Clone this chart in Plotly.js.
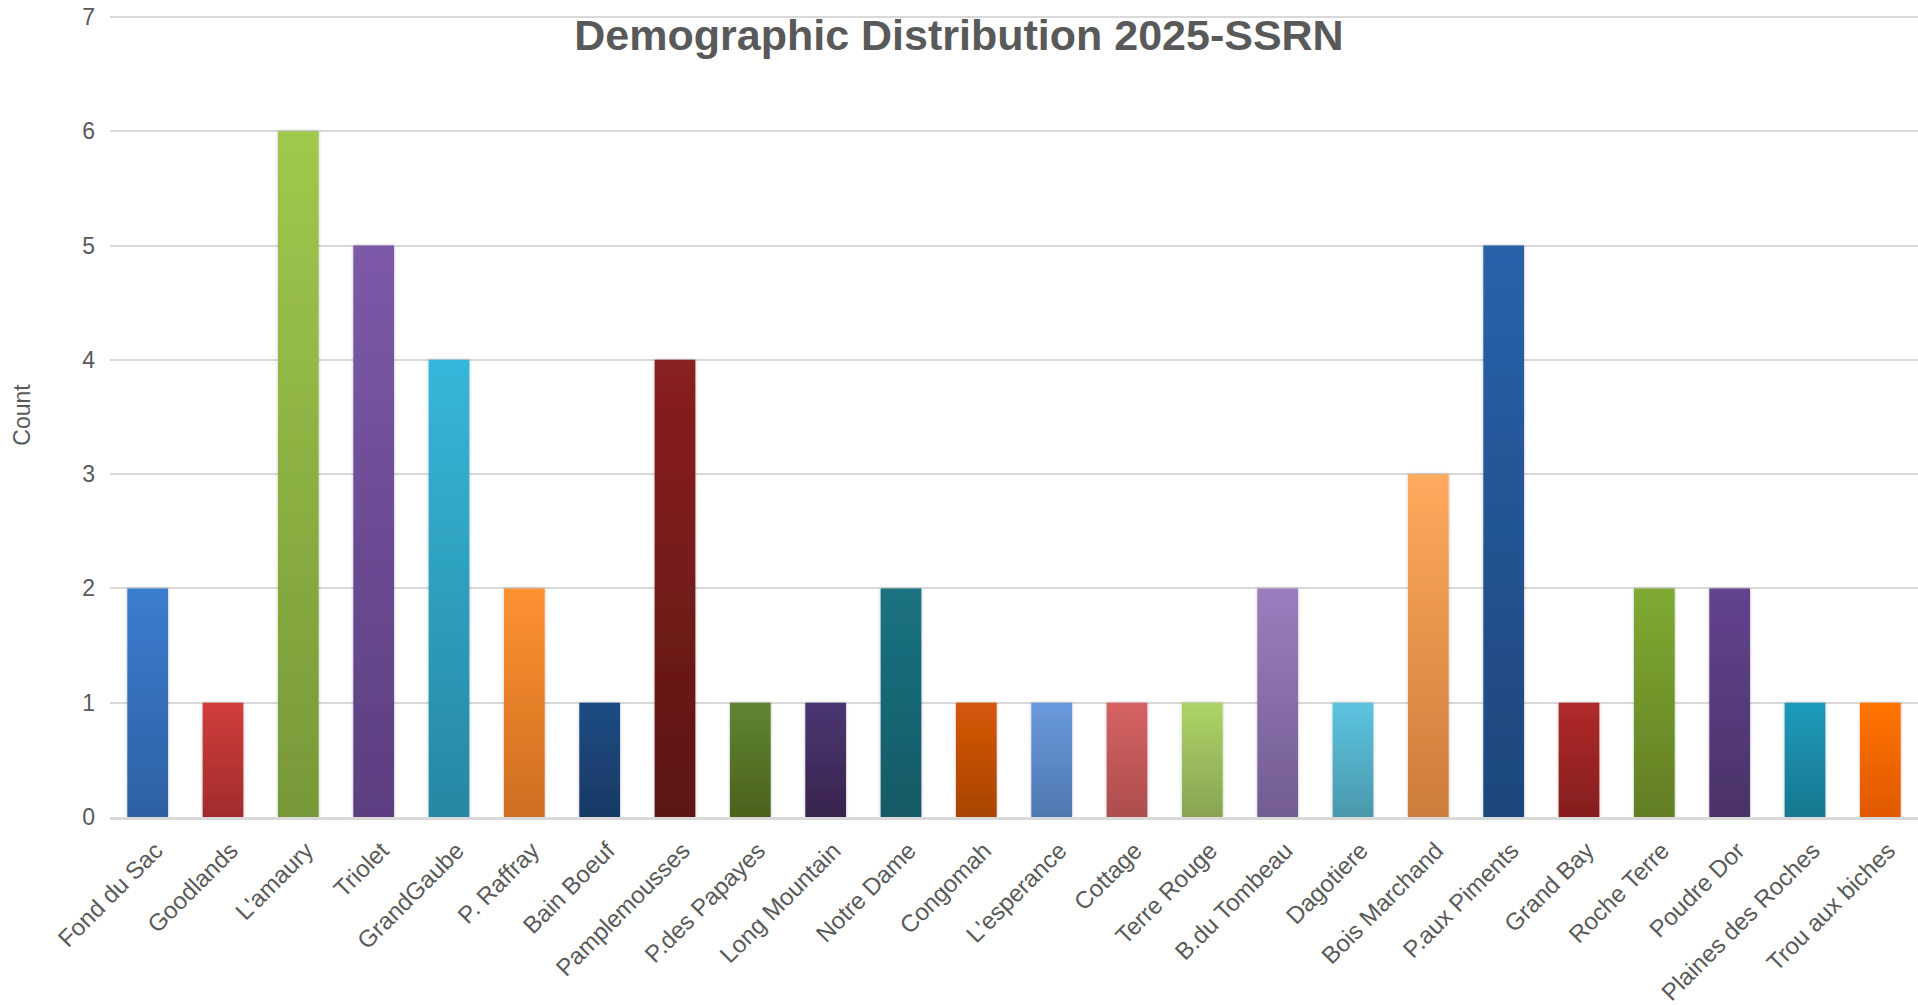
<!DOCTYPE html>
<html>
<head>
<meta charset="utf-8">
<script src="https://cdn.plot.ly/plotly-3.0.1.min.js"></script>
<style>
  html, body { margin: 0; padding: 0; background: #ffffff; }
  #chart { width: 1918px; height: 1005px; }
</style>
</head>
<body>
<div id="chart"></div>
<script>
// Villages surveyed and the number of records for each
const categories = [
  "Fond du Sac", "Goodlands", "L'amaury", "Triolet", "GrandGaube", "P. Raffray",
  "Bain Boeuf", "Pamplemousses", "P.des Papayes", "Long Mountain", "Notre Dame",
  "Congomah", "L'esperance", "Cottage", "Terre Rouge", "B.du Tombeau", "Dagotiere",
  "Bois Marchand", "P.aux Piments", "Grand Bay", "Roche Terre", "Poudre Dor",
  "Plaines des Roches", "Trou aux biches"
];
const counts = [2, 1, 6, 5, 4, 2, 1, 4, 1, 1, 2, 1, 1, 1, 1, 2, 1, 3, 5, 1, 2, 2, 1, 1];

// Each bar fades from a lighter top colour to a deeper bottom colour
const topColors = [
  "#3b7ecf", "#d23d3b", "#a0c84c", "#7c5aa8", "#36b6da", "#fd9232",
  "#1f4b83", "#8a2020", "#608432", "#4c3672", "#1b7382", "#d65808",
  "#6a9ade", "#d66262", "#aed468", "#9a7ebe", "#5cc4e0", "#ffaa5c",
  "#2a62aa", "#b02a2a", "#80aa32", "#62448e", "#1f9abc", "#ff7400"
];
const bottomColors = [
  "#2e60a2", "#a02c2c", "#779838", "#5c3e80", "#2688a2", "#cf6d20",
  "#183a64", "#5c1614", "#4a621e", "#38244e", "#125a66", "#a84400",
  "#4e78b0", "#ac4e4e", "#88a452", "#725c92", "#4a98ac", "#cc7c3c",
  "#1e467c", "#861e1e", "#627e24", "#4a3268", "#16788e", "#e05800"
];

const textColor = "#595959";
const baseFont = "Liberation Sans, Arial, Helvetica, sans-serif";

const trace = {
  type: "bar",
  x: categories,
  y: counts,
  marker: { color: bottomColors, line: { width: 0 } },
  hoverinfo: "x+y"
};

const layout = {
  width: 1918,
  height: 1005,
  margin: { l: 110, r: 0, t: 13, b: 188 },
  paper_bgcolor: "#ffffff",
  plot_bgcolor: "#ffffff",
  bargap: 0.46,
  showlegend: false,
  font: { family: baseFont, color: textColor, size: 23 },
  title: {
    text: "<b>Demographic Distribution 2025-SSRN</b>",
    font: { family: baseFont, size: 43, color: textColor },
    x: 0.5, xanchor: "center",
    y: 1 - 35 / 1005, yref: "container", yanchor: "middle"
  },
  xaxis: {
    type: "category",
    tickangle: -45,
    ticks: "",
    showgrid: false,
    showline: true,
    linecolor: "#d9d9d9",
    linewidth: 3,
    ticklabelstandoff: 7,
    ticklabelshift: 8,
    tickfont: { family: baseFont, size: 24, color: textColor },
    automargin: false
  },
  yaxis: {
    range: [0, 7.035],
    dtick: 1,
    tick0: 0,
    ticks: "",
    showline: false,
    zeroline: false,
    gridcolor: "#d9d9d9",
    gridwidth: 2,
    ticklabelstandoff: 14,
    tickfont: { family: baseFont, size: 23, color: textColor },
    title: { text: "Count", font: { family: baseFont, size: 23, color: textColor }, standoff: 45 },
    automargin: false
  }
};

Plotly.newPlot("chart", [trace], layout, { displayModeBar: false, staticPlot: true }).then(function (gd) {
  // Vertical gradient fill and a soft shadow for every bar
  const svg = gd.querySelector("svg.main-svg");
  const ns = "http://www.w3.org/2000/svg";
  let defs = svg.querySelector("defs");
  if (!defs) { defs = document.createElementNS(ns, "defs"); svg.insertBefore(defs, svg.firstChild); }

  const filter = document.createElementNS(ns, "filter");
  filter.setAttribute("id", "barShadow");
  filter.setAttribute("x", "-30%"); filter.setAttribute("y", "-5%");
  filter.setAttribute("width", "160%"); filter.setAttribute("height", "110%");
  const shadow = document.createElementNS(ns, "feDropShadow");
  shadow.setAttribute("dx", "0"); shadow.setAttribute("dy", "0");
  shadow.setAttribute("stdDeviation", "1.6");
  shadow.setAttribute("flood-color", "#000000");
  shadow.setAttribute("flood-opacity", "0.28");
  filter.appendChild(shadow);
  defs.appendChild(filter);

  const paths = gd.querySelectorAll(".barlayer .point path");
  paths.forEach(function (p, i) {
    const grad = document.createElementNS(ns, "linearGradient");
    grad.setAttribute("id", "barGrad" + i);
    grad.setAttribute("x1", "0"); grad.setAttribute("y1", "0");
    grad.setAttribute("x2", "0"); grad.setAttribute("y2", "1");
    const s1 = document.createElementNS(ns, "stop");
    s1.setAttribute("offset", "0"); s1.setAttribute("stop-color", topColors[i]);
    const s2 = document.createElementNS(ns, "stop");
    s2.setAttribute("offset", "1"); s2.setAttribute("stop-color", bottomColors[i]);
    grad.appendChild(s1); grad.appendChild(s2);
    defs.appendChild(grad);
    p.style.fill = "url(#barGrad" + i + ")";
    p.setAttribute("filter", "url(#barShadow)");
  });
});
</script>
</body>
</html>
